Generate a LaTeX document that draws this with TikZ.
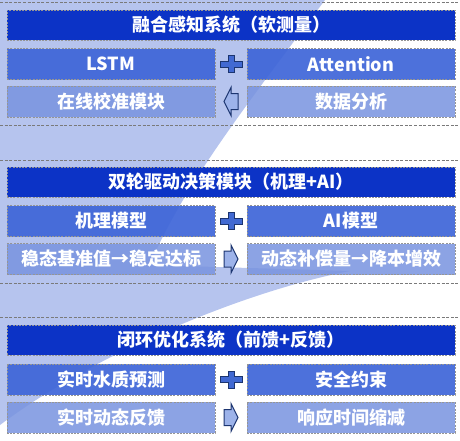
\documentclass[tikz,border=0pt]{standalone}
\usepackage{fontspec}
\setmainfont{Noto Sans CJK SC}
\usetikzlibrary{calc}
\definecolor{bglight}{HTML}{B6C4EE}
\definecolor{hdrblue}{HTML}{0C33C6}
\definecolor{midblue}{HTML}{3F66D8}
\definecolor{lowblue}{HTML}{7893DF}
\definecolor{navy}{HTML}{1C3570}
\definecolor{symfill}{HTML}{4169D2}
\definecolor{arrfill}{HTML}{9DB3EA}
\definecolor{dashgray}{HTML}{7A7A7A}
\begin{document}
\begin{tikzpicture}[x=1pt,y=-1pt,
  boxbase/.style={draw=dashgray!80, dash pattern=on 2pt off 1.2pt, line width=0.6pt, text=white, inner sep=0pt, font=\bfseries\fontsize{18}{18}\selectfont},
  hdrbox/.style={boxbase, fill=hdrblue, minimum width=448pt, minimum height=30pt},
  midbox/.style={boxbase, fill=midblue, fill opacity=0.93, text opacity=1, minimum width=208pt, minimum height=31pt},
  lowbox/.style={boxbase, fill=lowblue, fill opacity=0.85, text opacity=1, minimum width=208pt, minimum height=31pt},
  sepline/.style={draw=dashgray, dash pattern=on 3pt off 1.6pt, line width=0.7pt},
  symbol/.style={draw=navy, line width=1pt, line join=miter}
]
\useasboundingbox (0,0) rectangle (460,440);
% background swoosh
\fill[bglight] (0,0) -- (325,0) .. controls (250,100) and (180,190) .. (150,265)
  -- (350,271) .. controls (250,290) and (100,350) .. (0,425) -- cycle;
% separator lines
\foreach \yy in {2,125,160,283,317}{
  \draw[sepline] (0,\yy) -- (460,\yy);
}
% section 1
\node[hdrbox] (h1) at (231,25) {融合感知系统（软测量）};
\node[midbox] (m1l) at (111,64) {LSTM};
\node[midbox] (m1r) at (351,64) {Attention};
\node[lowbox] (l1l) at (111,101.5) {在线校准模块};
\node[lowbox] (l1r) at (351,101.5) {数据分析};
% section 2
\node[hdrbox] (h2) at (231,182) {双轮驱动决策模块（机理+AI）};
\node[midbox] (m2l) at (111,221) {机理模型};
\node[midbox] (m2r) at (351,221) {AI模型};
\node[lowbox] (l2l) at (111,259) {稳态基准值→稳定达标};
\node[lowbox] (l2r) at (351,259) {动态补偿量→降本增效};
% section 3
\node[hdrbox] (h3) at (231,340) {闭环优化系统（前馈+反馈）};
\node[midbox] (m3l) at (111,379.5) {实时水质预测};
\node[midbox] (m3r) at (351,379.5) {安全约束};
\node[lowbox] (l3l) at (111,417.5) {实时动态反馈};
\node[lowbox] (l3r) at (351,417.5) {响应时间缩减};
% plus signs
\foreach \a/\b in {m1l/m1r,m2l/m2r,m3l/m3r}{
  \coordinate (c) at ($(\a.east)!0.5!(\b.west)$);
  \draw[symbol, fill=symfill] ($(c)+(-11,-3)$) -- ($(c)+(-3,-3)$) -- ($(c)+(-3,-8.5)$) -- ($(c)+(3,-8.5)$)
    -- ($(c)+(3,-3)$) -- ($(c)+(11,-3)$) -- ($(c)+(11,3)$) -- ($(c)+(3,3)$) -- ($(c)+(3,8.5)$)
    -- ($(c)+(-3,8.5)$) -- ($(c)+(-3,3)$) -- ($(c)+(-11,3)$) -- cycle;
}
% arrows: left in section 1, right in 2 and 3
\foreach \a/\b/\s in {l1l/l1r/-1,l2l/l2r/1,l3l/l3r/1}{
  \coordinate (c) at ($(\a.east)!0.5!(\b.west)$);
  \draw[symbol, fill=arrfill] ($(c)+(-7*\s,-8)$) -- ($(c)+(0,-8)$) -- ($(c)+(0,-14)$) -- ($(c)+(7*\s,0)$)
    -- ($(c)+(0,14)$) -- ($(c)+(0,8)$) -- ($(c)+(-7*\s,8)$) -- cycle;
}
\end{tikzpicture}
\end{document}
